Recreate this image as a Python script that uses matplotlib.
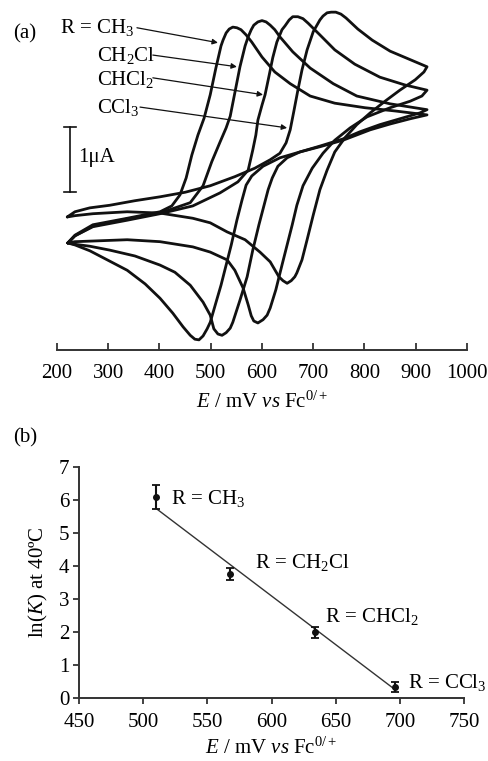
import matplotlib
matplotlib.use("Agg")
import matplotlib.pyplot as plt
import numpy as np

plt.rcParams["font.family"] = ["Liberation Serif", "DejaVu Serif"]
plt.rcParams["mathtext.fontset"] = "custom"
plt.rcParams["mathtext.rm"] = "Liberation Serif"
plt.rcParams["mathtext.it"] = "Liberation Serif:italic"

# --- (a) cyclic voltammograms: E (mV vs Fc), I (uA, arbitrary offset) ---
# each loop: forward sweep then reverse sweep
e_ch3 = [221, 235, 270, 337, 401, 424, 440, 452, 463, 475, 487, 499, 510, 520, 524,
         530, 536, 543, 551, 559, 569, 580, 600, 625, 655, 694, 742, 801, 860, 922,
         889, 850, 811, 758, 713, 674, 635, 602, 580, 569, 561, 551, 540, 530, 520,
         510, 499, 493, 485, 477, 469, 460, 446, 426, 401, 372, 337, 303, 264, 235, 221]
i_ch3 = [-0.20, -0.08, 0.08, 0.18, 0.28, 0.37, 0.54, 0.80, 1.15, 1.46, 1.72, 2.08, 2.49,
         2.83, 2.92, 3.03, 3.09, 3.12, 3.11, 3.08, 3.00, 2.89, 2.66, 2.43, 2.25, 2.06,
         1.95, 1.88, 1.83, 1.77,
         1.71, 1.63, 1.54, 1.38, 1.28, 1.20, 1.11, 0.98, 0.83, 0.69, 0.46, 0.15, -0.23,
         -0.54, -0.85, -1.12, -1.42, -1.52, -1.63, -1.69, -1.68, -1.62, -1.49, -1.28,
         -1.05, -0.83, -0.62, -0.48, -0.32, -0.23, -0.20]

e_ch2cl = [221, 235, 270, 337, 401, 460, 485, 502, 518, 530, 538, 547, 557, 567, 573,
           579, 584, 592, 600, 608, 616, 625, 635, 660, 694, 739, 785, 850, 922,
           908, 869, 830, 791, 758, 713, 674, 649, 631, 620, 612, 604, 594, 582, 571,
           557, 543, 538, 530, 522, 514, 506, 499, 485, 460, 430, 401, 352, 303, 264,
           235, 221]
i_ch2cl = [-0.20, -0.09, 0.06, 0.17, 0.26, 0.42, 0.68, 1.05, 1.35, 1.57, 1.75, 2.11,
           2.51, 2.83, 2.97, 3.08, 3.15, 3.20, 3.22, 3.20, 3.15, 3.08, 2.97, 2.74, 2.49,
           2.25, 2.06, 1.94, 1.85,
           1.80, 1.71, 1.62, 1.51, 1.40, 1.29, 1.20, 1.11, 0.98, 0.80, 0.62, 0.38, 0.08,
           -0.31, -0.72, -1.08, -1.42, -1.51, -1.58, -1.62, -1.60, -1.52, -1.31, -1.11,
           -0.85, -0.65, -0.54, -0.40, -0.31, -0.25, -0.22, -0.20]

e_chcl2 = [221, 235, 270, 337, 401, 465, 518, 553, 573, 582, 588, 592, 600, 606, 614,
           621, 629, 639, 645, 653, 660, 670, 680, 690, 713, 742, 781, 830, 879, 922,
           912, 889, 850, 805, 772, 742, 719, 698, 680, 668, 659, 649, 639, 627, 616,
           610, 602, 592, 584, 579, 573, 563, 547, 532, 499, 465, 401, 337, 270, 235, 221]
i_chcl2 = [-0.20, -0.09, 0.05, 0.15, 0.25, 0.37, 0.57, 0.74, 0.92, 1.23, 1.46, 1.69,
           1.92, 2.08, 2.38, 2.65, 2.89, 3.08, 3.14, 3.23, 3.28, 3.28, 3.25, 3.18, 3.00,
           2.77, 2.55, 2.35, 2.23, 2.15,
           2.06, 1.98, 1.88, 1.74, 1.57, 1.38, 1.18, 0.95, 0.68, 0.38, 0.08, -0.23, -0.54,
           -0.92, -1.20, -1.31, -1.38, -1.43, -1.40, -1.32, -1.15, -0.89, -0.62, -0.46,
           -0.34, -0.26, -0.18, -0.15, -0.17, -0.18, -0.20]

e_ccl3 = [220, 235, 264, 303, 352, 401, 450, 499, 547, 586, 616, 635, 647, 655, 662,
          670, 678, 688, 700, 713, 719, 727, 735, 744, 754, 764, 787, 815, 850, 889, 922,
          916, 899, 869, 840, 811, 785, 762, 742, 727, 713, 700, 688, 678, 668, 664,
          657, 649, 641, 633, 616, 596, 567, 532, 499, 465, 401, 337, 270, 235, 220]
i_ccl3 = [0.20, 0.28, 0.34, 0.38, 0.45, 0.51, 0.58, 0.68, 0.82, 0.95, 1.08, 1.18, 1.34,
          1.54, 1.82, 2.15, 2.46, 2.77, 3.05, 3.23, 3.29, 3.34, 3.35, 3.35, 3.32, 3.26,
          3.09, 2.92, 2.75, 2.62, 2.51,
          2.43, 2.31, 2.15, 1.98, 1.80, 1.62, 1.42, 1.20, 0.92, 0.62, 0.23, -0.15, -0.46,
          -0.66, -0.72, -0.78, -0.82, -0.78, -0.72, -0.49, -0.34, -0.15, -0.03, 0.11,
          0.18, 0.26, 0.28, 0.25, 0.22, 0.20]

cv_labels = ["R = CH$_3$", "CH$_2$Cl", "CHCl$_2$", "CCl$_3$"]

# --- (b) ln(K) vs E ---
e_pts = [510, 568, 634, 696]
lnk = [6.09, 3.76, 1.99, 0.35]
lnk_err = [0.36, 0.18, 0.17, 0.15]
pt_labels = ["R = CH$_3$", "R = CH$_2$Cl", "R = CHCl$_2$", "R = CCl$_3$"]
fit_e = [510, 695]
fit_lnk = [5.74, 0.30]

ink = "#111111"
axcol = "#333333"

fig = plt.figure(figsize=(4.89, 7.61), dpi=100)

# ---------------- panel (a) ----------------
ax1 = fig.add_axes([57 / 489, 411 / 761, 410 / 489, 345 / 761])
for e, i in [(e_ch3, i_ch3), (e_ch2cl, i_ch2cl), (e_chcl2, i_chcl2), (e_ccl3, i_ccl3)]:
    ax1.plot(e, i, color=ink, lw=2.0, solid_joinstyle="round", solid_capstyle="round")

ax1.set_xlim(200, 1000)
ax1.set_ylim(-1.846, 3.46)
for s in ["top", "right", "left"]:
    ax1.spines[s].set_visible(False)
ax1.spines["bottom"].set_color(axcol)
ax1.spines["bottom"].set_linewidth(1.4)
ax1.set_yticks([])
ax1.set_xticks(np.arange(200, 1001, 100))
ax1.tick_params(axis="x", direction="in", length=5, width=1.3, color=axcol,
                labelsize=15, pad=10)
ax1.set_xlabel(r"$\it{E}$ / mV $\it{vs}$ Fc$^{0/+}$", fontsize=15, labelpad=6)

# labels + arrows
text_pos = [(206, 3.11), (278, 2.69), (278, 2.31), (278, 1.89)]
arrow_from = [(356, 3.11), (387, 2.69), (387, 2.34), (362, 1.89)]
arrow_to = [(514, 2.88), (551, 2.51), (602, 2.08), (649, 1.57)]
for lab, tp, a0, a1 in zip(cv_labels, text_pos, arrow_from, arrow_to):
    ax1.text(tp[0], tp[1], lab, fontsize=15, ha="left", va="center")
    ax1.annotate("", xy=a1, xytext=a0,
                 arrowprops=dict(arrowstyle="-|>", lw=0.9, color=ink,
                                 mutation_scale=8, shrinkA=0, shrinkB=0))

# 1 uA scale bar
ax1.plot([225, 225], [0.585, 1.585], color=ink, lw=1.2)
ax1.plot([214, 237], [0.585, 0.585], color=ink, lw=1.2)
ax1.plot([214, 237], [1.585, 1.585], color=ink, lw=1.2)
ax1.text(241, 1.11, "1μA", fontsize=15, ha="left", va="center")

fig.text(25 / 489, 1 - 34 / 761, "(a)", fontsize=15, ha="center", va="center")

# ---------------- panel (b) ----------------
ax2 = fig.add_axes([79 / 489, 62.7 / 761, 385 / 489, 231.6 / 761])
ax2.plot(fit_e, fit_lnk, color=axcol, lw=1.0)
ax2.errorbar(e_pts, lnk, yerr=lnk_err, fmt="o", color=ink, ms=4, elinewidth=1.5,
             capsize=3, capthick=1.3)
for lab, x, y, dx, dy in zip(pt_labels, e_pts, lnk, [12, 19, 8, 10], [-0.04, 0.33, 0.47, 0.14]):
    ax2.text(x + dx, y + dy, lab, fontsize=15, ha="left", va="center")

ax2.set_xlim(450, 750)
ax2.set_ylim(0, 7)
ax2.set_xticks(np.arange(450, 751, 50))
ax2.set_yticks(np.arange(0, 8, 1))
for s in ["top", "right"]:
    ax2.spines[s].set_visible(False)
for s in ["left", "bottom"]:
    ax2.spines[s].set_color(axcol)
    ax2.spines[s].set_linewidth(1.4)
ax2.tick_params(direction="out", length=4, width=1.3, color=axcol, labelsize=15, pad=3)
ax2.tick_params(axis="x", pad=6.5)
ax2.set_xlabel(r"$\it{E}$ / mV $\it{vs}$ Fc$^{0/+}$", fontsize=15, labelpad=4)
ax2.set_ylabel(r"ln($\it{K}$) at 40ºC", fontsize=15, labelpad=6)

fig.text(25 / 489, 1 - 438 / 761, "(b)", fontsize=15, ha="center", va="center")

fig.savefig("out.png", dpi=100)
